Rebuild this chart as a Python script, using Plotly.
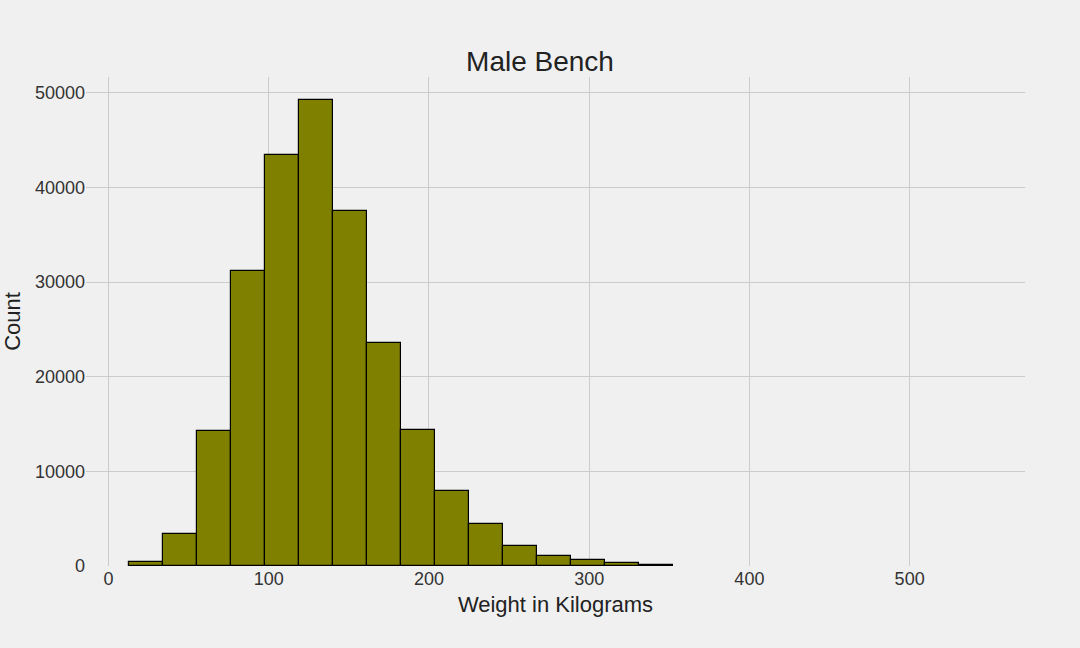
import plotly.graph_objects as go

bin_start = 13.0
bin_width = 21.2
counts = [400, 3400, 14300, 31200, 43400, 49200, 37500, 23600, 14400, 7900,
          4400, 2100, 1100, 600, 350, 120]
centers = [bin_start + bin_width * (i + 0.5) for i in range(len(counts))]

fig = go.Figure(go.Bar(
    x=centers, y=counts, width=bin_width,
    marker=dict(color="#808000", line=dict(color="black", width=1.2)),
))
font = "Liberation Sans"
fig.update_layout(
    width=1080, height=648,
    paper_bgcolor="#f0f0f0", plot_bgcolor="#f0f0f0",
    margin=dict(l=86, r=55, t=77, b=82),
    font=dict(family=font, size=18, color="#333"),
    title=dict(text="Male Bench", x=0.5, xanchor="center", y=0.905, yanchor="middle",
               font=dict(size=28, color="#222")),
    bargap=0, showlegend=False,
    xaxis=dict(range=[-14, 572], tickvals=[0, 100, 200, 300, 400, 500],
               gridcolor="#cbcbcb", gridwidth=1, zeroline=False,
               title=dict(text="Weight in Kilograms", font=dict(size=22, color="#222"), standoff=8),
               ticks="", showline=False),
    yaxis=dict(range=[0, 51660], tickvals=[0, 10000, 20000, 30000, 40000, 50000],
               tickformat="d",
               gridcolor="#cbcbcb", gridwidth=1, zeroline=False,
               title=dict(text="Count", font=dict(size=22, color="#222"), standoff=8),
               ticks="", showline=False),
)
fig.write_html("out.html", config={"displayModeBar": False},
               post_script="document.body.style.margin='0';")
